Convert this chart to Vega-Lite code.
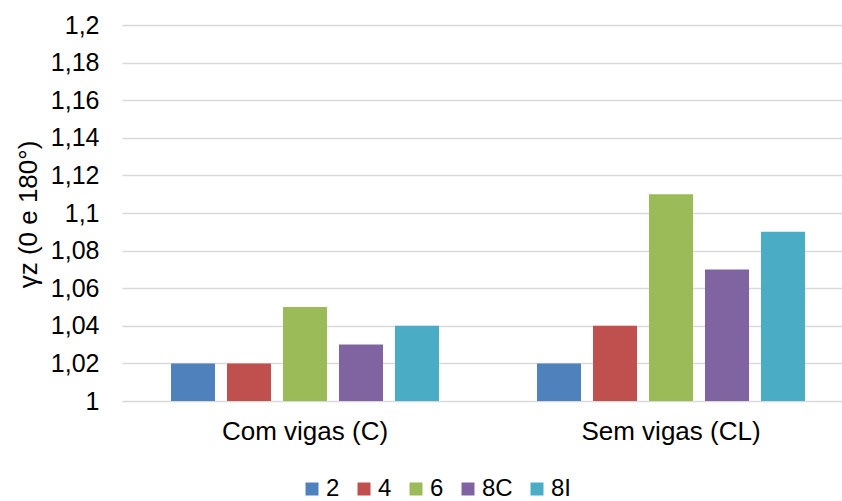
{
  "$schema": "https://vega.github.io/schema/vega-lite/v6.json",
  "autosize": {"type": "none"},
  "padding": {"left": 122, "top": 25, "right": 0, "bottom": 100},
  "width": 732,
  "height": 376,
  "background": "white",
  "config": {
    "font": "Liberation Sans",
    "view": {"stroke": null}
  },
  "data": {
    "values": [
      {"grupo": "Com vigas (C)", "serie": "2", "valor": 1.02},
      {"grupo": "Com vigas (C)", "serie": "4", "valor": 1.02},
      {"grupo": "Com vigas (C)", "serie": "6", "valor": 1.05},
      {"grupo": "Com vigas (C)", "serie": "8C", "valor": 1.03},
      {"grupo": "Com vigas (C)", "serie": "8I", "valor": 1.04},
      {"grupo": "Sem vigas (CL)", "serie": "2", "valor": 1.02},
      {"grupo": "Sem vigas (CL)", "serie": "4", "valor": 1.04},
      {"grupo": "Sem vigas (CL)", "serie": "6", "valor": 1.11},
      {"grupo": "Sem vigas (CL)", "serie": "8C", "valor": 1.07},
      {"grupo": "Sem vigas (CL)", "serie": "8I", "valor": 1.09}
    ]
  },
  "mark": {"type": "bar"},
  "encoding": {
    "x": {
      "field": "grupo",
      "type": "nominal",
      "sort": ["Com vigas (C)", "Sem vigas (CL)"],
      "scale": {"paddingInner": 0, "paddingOuter": 0},
      "axis": {
        "title": null,
        "labelAngle": 0,
        "labelFontSize": 26,
        "labelColor": "#000000",
        "labelPadding": 17,
        "ticks": false,
        "domain": false
      }
    },
    "xOffset": {
      "field": "serie",
      "type": "nominal",
      "sort": ["2", "4", "6", "8C", "8I"],
      "scale": {"paddingInner": 0.214, "paddingOuter": 0.875}
    },
    "y": {
      "field": "valor",
      "type": "quantitative",
      "scale": {"domain": [1, 1.2], "zero": false, "nice": false},
      "axis": {
        "title": "γz (0 e 180°)",
        "titleFontSize": 26,
        "titleFontWeight": "normal",
        "titleColor": "#000000",
        "titleX": -94,
        "titleY": 189,
        "titleAngle": -90,
        "titleAlign": "center",
        "titleBaseline": "middle",
        "values": [1, 1.02, 1.04, 1.06, 1.08, 1.1, 1.12, 1.14, 1.16, 1.18, 1.2],
        "labelExpr": "replace(format(datum.value, '~g'), '.', ',')",
        "labelFontSize": 25,
        "labelColor": "#000000",
        "labelPadding": 23,
        "ticks": false,
        "domain": false,
        "grid": true,
        "gridColor": "#d9d9d9",
        "gridWidth": 1.5
      }
    },
    "y2": {"datum": 1},
    "color": {
      "field": "serie",
      "type": "nominal",
      "sort": ["2", "4", "6", "8C", "8I"],
      "scale": {
        "domain": ["2", "4", "6", "8C", "8I"],
        "range": ["#4F81BD", "#C0504D", "#9BBB59", "#8064A2", "#4BACC6"]
      },
      "legend": {
        "title": null,
        "orient": "none",
        "direction": "horizontal",
        "padding": 0,
        "gridAlign": "none",
        "legendX": 178,
        "legendY": 452,
        "symbolType": "square",
        "symbolSize": 169,
        "symbolStrokeWidth": 0,
        "labelFontSize": 24,
        "labelColor": "#000000",
        "labelOffset": 2,
        "columnPadding": 12
      }
    }
  }
}
